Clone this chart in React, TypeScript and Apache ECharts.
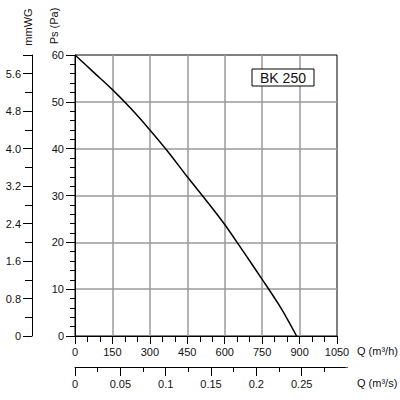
import React, { useEffect, useRef } from "react";
import * as echarts from "echarts";

const flowM3h = [0, 75, 150, 225, 300, 375, 450, 525, 600, 675, 750, 825, 888];
const pressurePa = [60, 56.3, 52.6, 48.5, 44.0, 39.2, 34.0, 29.0, 23.8, 18.0, 12.1, 6.0, 0];

const xTitleH = "Q (m³/h)";
const xTitleS = "Q (m³/s)";
const yTitlePa = "Ps (Pa)";
const yTitleMm = "mmWG";
const modelLabel = "BK 250";

const FONT = "Liberation Sans, Arial, sans-serif";
const GRID_GRAY = "#9a9a9a";

export default function App() {
  const ref = useRef<HTMLDivElement>(null);
  useEffect(() => {
    if (!ref.current) return;
    const chart = echarts.init(ref.current, undefined, { renderer: "svg" });
    const labelStyle = { color: "#111", fontSize: 11, fontFamily: FONT };
    const axisLine = { show: true, lineStyle: { color: "#000", width: 1 } };
    chart.setOption({
      animation: false,
      backgroundColor: "#fff",
      grid: [
        { left: 75, top: 55, width: 262, height: 281, show: true, borderColor: "#000", borderWidth: 1, backgroundColor: "transparent" },
        { left: 75, top: 366, width: 272, height: 1 },
        { left: 32, top: 55, width: 1, height: 281 },
      ],
      xAxis: [
        {
          type: "value", gridIndex: 0, min: 0, max: 1050, interval: 150,
          axisLine, axisTick: { show: true, length: 8, lineStyle: { color: "#000" } },
          minorTick: { show: true, splitNumber: 3, length: 6, lineStyle: { color: "#000" } },
          axisLabel: { ...labelStyle, margin: 10, formatter: (v: number) => String(v) },
          splitLine: { show: true, showMinLine: false, showMaxLine: false, lineStyle: { color: GRID_GRAY, width: 1.5 } },
        },
        {
          type: "value", gridIndex: 1, min: 0, max: 0.3, interval: 0.05, position: "bottom",
          axisLine, axisTick: { show: true, length: 9, lineStyle: { color: "#000" } },
          minorTick: { show: true, splitNumber: 2, length: 5, lineStyle: { color: "#000" } },
          axisLabel: { ...labelStyle, margin: 11, formatter: (v: number) => (v > 0.27 ? "" : String(+v.toFixed(3))) },
          splitLine: { show: false },
        },
        { type: "value", gridIndex: 2, show: false, min: 0, max: 1 },
      ],
      yAxis: [
        {
          type: "value", gridIndex: 0, min: 0, max: 60, interval: 10,
          axisLine, axisTick: { show: true, length: 9, lineStyle: { color: "#000" } },
          minorTick: { show: true, splitNumber: 5, length: 5, lineStyle: { color: "#000" } },
          axisLabel: { ...labelStyle, margin: 11 },
          splitLine: { show: true, showMinLine: false, showMaxLine: false, lineStyle: { color: GRID_GRAY, width: 1.5 } },
        },
        { type: "value", gridIndex: 1, show: false, min: 0, max: 1 },
        {
          type: "value", gridIndex: 2, min: 0, max: 6, interval: 0.8, position: "left",
          axisLine, axisTick: { show: true, length: 9, lineStyle: { color: "#000" } },
          minorTick: { show: true, splitNumber: 2, length: 7, lineStyle: { color: "#000" } },
          axisLabel: { ...labelStyle, margin: 11, formatter: (v: number) => (v > 5.7 ? "" : v === 0 ? "0" : v.toFixed(1)) },
          splitLine: { show: false },
        },
      ],
      series: [
        {
          type: "line", xAxisIndex: 0, yAxisIndex: 0, smooth: 0.3, symbol: "none",
          lineStyle: { color: "#000", width: 1.5 },
          data: flowM3h.map((q, i) => [q, pressurePa[i]]),
          z: 5,
        },
      ],
      graphic: [
        { type: "rect", shape: { x: 345.5, y: 367.6, width: 4, height: 11 }, style: { fill: "#fff" }, z: 100 },
        { type: "text", x: 357, y: 351, style: { text: xTitleH, fill: "#111", font: `11px ${FONT}`, textVerticalAlign: "middle" } },
        { type: "text", x: 357, y: 383, style: { text: xTitleS, fill: "#111", font: `11px ${FONT}`, textVerticalAlign: "middle" } },
        { type: "text", x: 54, y: 26, rotation: Math.PI / 2, style: { text: yTitlePa, fill: "#111", font: `11px ${FONT}`, textAlign: "center", textVerticalAlign: "middle" } },
        { type: "text", x: 28, y: 27, rotation: Math.PI / 2, style: { text: yTitleMm, fill: "#111", font: `11px ${FONT}`, textAlign: "center", textVerticalAlign: "middle" } },
        { type: "rect", shape: { x: 252, y: 69, width: 62, height: 17 }, style: { fill: "#fff", stroke: "#000", lineWidth: 1 }, z: 10 },
        { type: "text", x: 283, y: 77.5, style: { text: modelLabel, fill: "#111", font: `14px ${FONT}`, textAlign: "center", textVerticalAlign: "middle" }, z: 11 },
      ],
    });
    return () => chart.dispose();
  }, []);
  return <div ref={ref} style={{ position: "fixed", left: 0, top: 0, width: 400, height: 400 }} />;
}
